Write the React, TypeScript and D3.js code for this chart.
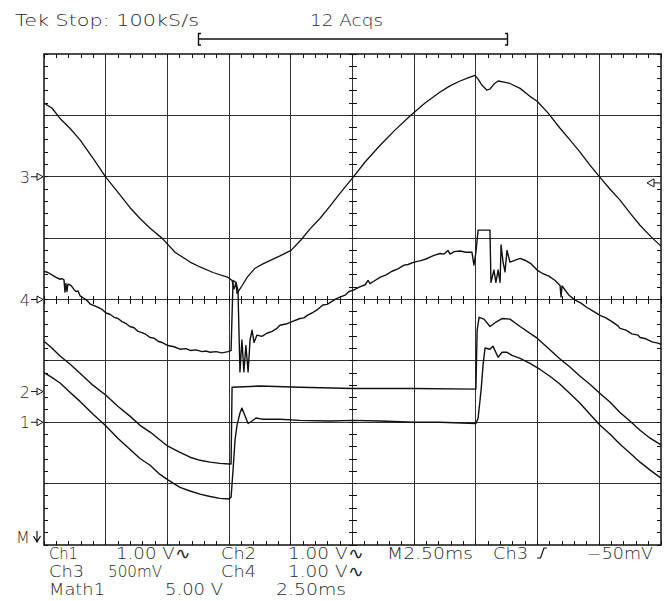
import React from 'react';
import * as d3 from 'd3';

// Screen geometry of the graticule (10 x 8 divisions)
const W = 666;
const H = 601;
const PLOT = { left: 44, right: 661, top: 54, bottom: 545 };

// Horizontal: 2.50 ms/div over 10 divisions; vertical: divisions from centre
const TIME_DOMAIN: [number, number] = [0, 25];
const DIV_DOMAIN: [number, number] = [-4, 4];
const MS_PER_DIV = 2.5;

type Pt = [number, number]; // [time ms, screen divisions]

// Ch3 (500 mV/div)
const ch3Trace: Pt[] = [
  [0, 3.2], [0.32, 3.12], [0.65, 2.95], [1.05, 2.79], [1.46, 2.6], [1.99, 2.3],
  [2.51, 1.99], [2.99, 1.75], [3.48, 1.5], [3.89, 1.32], [4.3, 1.16], [4.78, 1.0],
  [5.31, 0.77], [5.92, 0.61], [6.32, 0.53], [6.85, 0.44], [7.46, 0.36], [7.62, 0.31],
  [7.7, 0.17], [7.78, 0.27], [7.82, 0.1], [7.9, 0.15], [8.02, 0.22], [8.23, 0.36],
  [8.55, 0.51], [8.87, 0.58], [9.56, 0.71], [10.01, 0.8], [10.41, 0.97], [10.78, 1.15],
  [11.18, 1.32], [11.59, 1.52], [11.99, 1.73], [12.52, 1.99], [13.01, 2.24], [13.61, 2.51],
  [14.22, 2.76], [14.83, 2.99], [15.44, 3.2], [16.05, 3.38], [16.45, 3.48], [16.86, 3.56],
  [17.18, 3.61], [17.46, 3.65], [17.59, 3.59], [17.75, 3.49], [17.95, 3.41], [18.07, 3.43],
  [18.23, 3.51], [18.4, 3.56], [18.64, 3.54], [18.88, 3.52], [19.29, 3.44], [19.69, 3.31],
  [19.98, 3.23], [20.42, 3.04], [20.91, 2.79], [21.31, 2.6], [21.72, 2.4], [22.12, 2.19],
  [22.53, 1.99], [22.93, 1.8], [23.34, 1.62], [23.74, 1.41], [24.15, 1.21], [24.6, 1.02],
  [25, 0.87],
];

// Ch4 (1.00 V/div)
const ch4Trace: Pt[] = [
  [0, 0.46], [0.16, 0.44], [0.32, 0.4], [0.49, 0.36], [0.65, 0.33], [0.73, 0.34],
  [0.81, 0.32], [0.85, 0.12], [0.89, 0.26], [0.93, 0.13], [0.97, 0.25], [1.05, 0.24],
  [1.13, 0.21], [1.22, 0.16], [1.3, 0.13], [1.38, 0.14], [1.46, 0.06], [1.62, 0.02],
  [1.78, -0.03], [1.86, -0.07], [2.03, -0.1], [2.19, -0.13], [2.35, -0.16], [2.51, -0.22],
  [2.67, -0.24], [2.84, -0.29], [3.0, -0.31], [3.16, -0.36], [3.32, -0.39], [3.48, -0.44],
  [3.65, -0.46], [3.81, -0.52], [3.97, -0.54], [4.13, -0.57], [4.3, -0.62], [4.46, -0.63],
  [4.62, -0.68], [4.78, -0.7], [5.02, -0.75], [5.27, -0.77], [5.51, -0.81], [5.75, -0.8],
  [5.92, -0.83], [6.16, -0.82], [6.4, -0.85], [6.57, -0.84], [6.73, -0.86], [6.97, -0.85],
  [7.21, -0.87], [7.46, -0.85], [7.58, -0.83], [7.66, 0.31], [7.78, 0.28], [7.86, 0.15],
  [7.94, -1.18], [8.02, -0.66], [8.1, -1.18], [8.18, -0.75], [8.27, -1.18], [8.35, -0.66],
  [8.43, -0.5], [8.51, -0.7], [8.63, -0.58], [8.83, -0.6], [9.03, -0.55], [9.24, -0.52],
  [9.44, -0.47], [9.56, -0.42], [9.8, -0.4], [10.05, -0.36], [10.37, -0.31], [10.53, -0.3],
  [10.7, -0.25], [10.86, -0.22], [11.06, -0.17], [11.3, -0.09], [11.47, -0.08], [11.67, -0.03],
  [11.83, 0.01], [11.99, 0.04], [12.2, 0.07], [12.36, 0.13], [12.52, 0.15], [12.77, 0.2],
  [13.01, 0.24], [13.13, 0.31], [13.21, 0.26], [13.41, 0.31], [13.61, 0.36], [13.86, 0.4],
  [14.1, 0.46], [14.34, 0.5], [14.59, 0.56], [14.75, 0.57], [14.99, 0.61], [15.23, 0.63],
  [15.48, 0.66], [15.64, 0.69], [15.8, 0.72], [16.05, 0.75], [16.21, 0.74], [16.37, 0.8],
  [16.45, 0.74], [16.62, 0.78], [16.86, 0.79], [17.1, 0.77], [17.34, 0.77], [17.42, 0.56],
  [17.5, 0.77], [17.59, 1.13], [18.07, 1.13], [18.11, 0.28], [18.23, 0.48], [18.31, 0.28],
  [18.4, 0.48], [18.48, 0.28], [18.52, 0.89], [18.6, 0.61], [18.68, 0.45], [18.76, 0.8],
  [18.88, 0.61], [19.29, 0.67], [19.49, 0.64], [19.74, 0.58], [19.98, 0.48], [20.22, 0.42],
  [20.46, 0.38], [20.71, 0.31], [20.91, 0.23], [20.95, 0.04], [20.99, 0.22], [21.03, 0.2],
  [21.27, 0.07], [21.52, -0.01], [21.76, -0.06], [22.0, -0.13], [22.25, -0.19], [22.53, -0.26],
  [22.77, -0.3], [23.01, -0.36], [23.26, -0.43], [23.34, -0.47], [23.58, -0.5], [23.82, -0.56],
  [24.07, -0.58], [24.15, -0.62], [24.39, -0.64], [24.64, -0.69], [24.88, -0.71], [25, -0.73],
];

// Ch2 (1.00 V/div)
const ch2Trace: Pt[] = [
  [0, -0.68], [0.32, -0.79], [0.65, -0.92], [1.05, -1.05], [1.46, -1.2], [1.99, -1.4],
  [2.51, -1.56], [2.99, -1.74], [3.48, -1.9], [3.89, -2.05], [4.3, -2.16], [4.7, -2.29],
  [5.02, -2.39], [5.51, -2.49], [5.92, -2.57], [6.32, -2.62], [6.73, -2.65], [7.13, -2.67],
  [7.5, -2.68], [7.58, -2.68], [7.62, -1.43], [8.75, -1.41], [10.37, -1.43], [12.52, -1.45],
  [14.99, -1.45], [17.5, -1.46], [17.55, -0.5], [17.63, -0.29], [17.83, -0.32], [18.07, -0.44],
  [18.31, -0.37], [18.56, -0.31], [18.88, -0.32], [19.29, -0.44], [19.98, -0.63], [20.42, -0.79],
  [20.91, -0.97], [21.31, -1.1], [21.72, -1.25], [22.12, -1.38], [22.53, -1.53], [22.93, -1.67],
  [23.34, -1.84], [23.74, -1.98], [24.15, -2.13], [24.56, -2.26], [25, -2.37],
];

// Ch1 (1.00 V/div)
const ch1Trace: Pt[] = [
  [0, -1.19], [0.32, -1.27], [0.65, -1.36], [1.05, -1.51], [1.46, -1.66], [1.99, -1.87],
  [2.51, -2.06], [2.99, -2.26], [3.48, -2.44], [3.89, -2.59], [4.3, -2.7], [4.7, -2.85],
  [5.02, -2.94], [5.51, -3.06], [5.92, -3.12], [6.32, -3.17], [6.73, -3.21], [7.13, -3.24],
  [7.5, -3.25], [7.58, -3.22], [7.66, -2.78], [7.74, -2.29], [7.82, -2.05], [7.94, -1.85],
  [8.02, -1.77], [8.14, -1.89], [8.27, -2.02], [8.43, -1.98], [8.59, -1.93], [8.83, -1.95],
  [9.56, -1.95], [10.37, -1.97], [11.59, -1.98], [12.52, -1.97], [13.61, -1.98], [14.99, -2.0],
  [16.05, -2.0], [17.5, -2.02], [17.59, -1.93], [17.71, -1.48], [17.79, -1.07], [17.87, -0.79],
  [18.07, -0.81], [18.19, -0.76], [18.4, -0.94], [18.56, -0.86], [18.76, -0.86], [18.96, -0.91],
  [19.29, -0.96], [19.69, -1.04], [20.1, -1.14], [20.5, -1.25], [20.91, -1.38], [21.31, -1.53],
  [21.72, -1.69], [22.12, -1.87], [22.53, -2.05], [22.93, -2.19], [23.34, -2.36], [23.74, -2.5],
  [24.15, -2.65], [24.56, -2.78], [25, -2.91],
];

// Ground reference markers at the left edge, in divisions from centre
const groundLabels = ['3', '4', '2', '1'];
const groundLevels = [2, 0, -1.5, -2];

// Trigger level (Ch3 at -50 mV with 500 mV/div)
const triggerLevelDiv = 2 - 0.1;

// Readout text
const headerText = 'Tek Stop: 100kS/s';
const acqText = '12 Acqs';
const readoutRow1 = ['Ch1', '1.00 V\u223F', 'Ch2', '1.00 V\u223F', 'M2.50ms', 'Ch3', '\u221250mV'];
const readoutRow2 = ['Ch3', '500mV', 'Ch4', '1.00 V\u223F'];
const readoutRow3 = ['Math1', '5.00 V', '2.50ms'];

const FONT = "'DejaVu Sans', sans-serif";
const INK = '#111';
const TEXT_INK = '#2a2a2a';

export default function App() {
  const x = d3.scaleLinear().domain(TIME_DOMAIN).range([PLOT.left, PLOT.right]);
  const y = d3.scaleLinear().domain(DIV_DOMAIN).range([PLOT.bottom, PLOT.top]);

  const line = d3
    .line<Pt>()
    .x((d) => x(d[0]))
    .y((d) => y(d[1]))
    .curve(d3.curveLinear);

  const majorX = d3.range(1, 10).map((i) => i * MS_PER_DIV);
  const majorY = d3.range(-3, 4);
  const minorX = d3.range(0, 25.0001, MS_PER_DIV / 5);
  const minorY = d3.range(-4, 4.0001, 0.2);
  const cx = x(12.5);
  const cy = y(0);

  const row1X = [49, 116, 221, 288, 387, 493, 587];
  const row1W = [29, 74, 35, 75, 86, 35, 66];
  const row2X = [49, 108, 221, 288];
  const row2W = [35, 54, 35, 75];
  const row3X = [49, 165, 276];
  const row3W = [56, 58, 70];

  const textProps = {
    fontFamily: FONT,
    fontSize: 15.5,
    fontWeight: 300,
    fill: TEXT_INK,
    lengthAdjust: 'spacingAndGlyphs' as const,
  };

  return (
    <svg
      width={W}
      height={H}
      viewBox={`0 0 ${W} ${H}`}
      style={{ position: 'absolute', left: 0, top: 0, background: '#fff' }}
    >
      <rect x={0} y={0} width={W} height={H} fill="#fff" />

      {/* header */}
      <text x={15} y={26} textLength={184} {...textProps} fontSize={16.5}>
        {headerText}
      </text>
      <text x={310} y={26} textLength={73} {...textProps} fontSize={16.5}>
        {acqText}
      </text>
      <g stroke={INK} strokeWidth={1.4} fill="none">
        <line x1={198} x2={508} y1={39} y2={39} />
        <path d="M201,33.5 H198.5 V45 H201" />
        <path d="M505,33.5 H507.5 V45 H505" />
      </g>

      {/* graticule */}
      <g stroke="#333" strokeWidth={1} shapeRendering="crispEdges">
        {majorX.map((t) => (
          <line key={`vx${t}`} x1={x(t)} x2={x(t)} y1={PLOT.top} y2={PLOT.bottom} />
        ))}
        {majorY.map((d) => (
          <line key={`hy${d}`} x1={PLOT.left} x2={PLOT.right} y1={y(d)} y2={y(d)} />
        ))}
      </g>
      <g stroke={INK} strokeWidth={1} shapeRendering="crispEdges">
        {minorX.map((t) => (
          <g key={`mx${t}`}>
            <line x1={x(t)} x2={x(t)} y1={PLOT.top} y2={PLOT.top + 4} />
            <line x1={x(t)} x2={x(t)} y1={PLOT.bottom - 4} y2={PLOT.bottom} />
            <line x1={x(t)} x2={x(t)} y1={cy - 4} y2={cy + 4} />
          </g>
        ))}
        {minorY.map((d) => (
          <g key={`my${d.toFixed(1)}`}>
            <line x1={PLOT.left} x2={PLOT.left + 4} y1={y(d)} y2={y(d)} />
            <line x1={PLOT.right - 4} x2={PLOT.right} y1={y(d)} y2={y(d)} />
            <line x1={cx - 4} x2={cx + 4} y1={y(d)} y2={y(d)} />
          </g>
        ))}
      </g>
      <rect
        x={PLOT.left}
        y={PLOT.top}
        width={PLOT.right - PLOT.left}
        height={PLOT.bottom - PLOT.top}
        fill="none"
        stroke={INK}
        strokeWidth={1.5}
      />

      {/* waveforms */}
      <g fill="none" stroke={INK} strokeLinejoin="round">
        <path d={line(ch3Trace) ?? ''} strokeWidth={1.3} />
        <path d={line(ch4Trace) ?? ''} strokeWidth={1.4} />
        <path d={line(ch2Trace) ?? ''} strokeWidth={1.4} />
        <path d={line(ch1Trace) ?? ''} strokeWidth={1.4} />
      </g>

      {/* ground markers */}
      {groundLabels.map((lab, i) => {
        const gy = y(groundLevels[i]);
        return (
          <g key={`g${lab}`}>
            <text
              x={30}
              y={gy + 6}
              textAnchor="end"
              fontFamily={FONT}
              fontSize={16}
              fontWeight={300}
              fill={TEXT_INK}
            >
              {lab}
            </text>
            <path
              d={`M31,${gy} H37 M37,${gy - 3.5} L43,${gy} L37,${gy + 3.5} Z`}
              fill="#fff"
              stroke={INK}
              strokeWidth={1}
            />
          </g>
        );
      })}
      <text x={16} y={543} fontFamily={FONT} fontSize={16} fontWeight={300} fill={TEXT_INK}>
        M
      </text>
      <path
        d="M37,531 V541 M33.5,536 L37,542 L40.5,536"
        fill="none"
        stroke={INK}
        strokeWidth={1.2}
      />

      {/* trigger level marker */}
      <path
        d={`M647,${y(triggerLevelDiv)} L654,${y(triggerLevelDiv) - 4} L654,${
          y(triggerLevelDiv) + 4
        } Z M654,${y(triggerLevelDiv)} H660`}
        fill="#fff"
        stroke={INK}
        strokeWidth={1}
      />

      {/* readout */}
      {readoutRow1.map((s, i) => (
        <text key={`r1${i}`} x={row1X[i]} y={559} textLength={row1W[i]} {...textProps}>
          {s}
        </text>
      ))}
      <path d="M537,558 H540.5 L544,548 H547" fill="none" stroke={INK} strokeWidth={1.2} />
      {readoutRow2.map((s, i) => (
        <text key={`r2${i}`} x={row2X[i]} y={577} textLength={row2W[i]} {...textProps}>
          {s}
        </text>
      ))}
      {readoutRow3.map((s, i) => (
        <text key={`r3${i}`} x={row3X[i]} y={595} textLength={row3W[i]} {...textProps}>
          {s}
        </text>
      ))}
    </svg>
  );
}
